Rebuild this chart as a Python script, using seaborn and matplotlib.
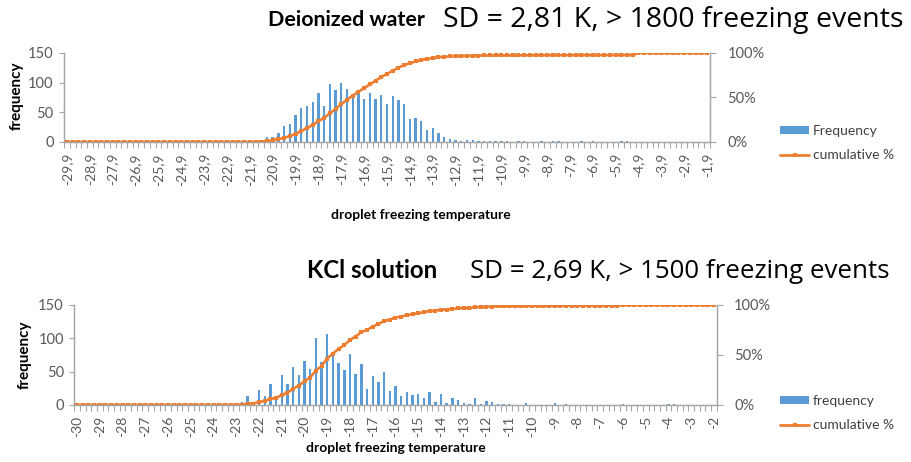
import numpy as np
import pandas as pd
import matplotlib
matplotlib.use("Agg")
import matplotlib.pyplot as plt
import seaborn as sns
from matplotlib.patches import Patch
from matplotlib.lines import Line2D

# ---------------- data ----------------
dw_tick_labels = ["-29,9", "-28,9", "-27,9", "-26,9", "-25,9", "-24,9", "-23,9", "-22,9",
                  "-21,9", "-20,9", "-19,9", "-18,9", "-17,9", "-16,9", "-15,9", "-14,9",
                  "-13,9", "-12,9", "-11,9", "-10,9", "-9,9", "-8,9", "-7,9", "-6,9",
                  "-5,9", "-4,9", "-3,9", "-2,9", "-1,9"]
dw_freq = [0] * 34 + [1, 8, 8, 16, 27, 30, 46, 58, 61, 68, 82, 61, 97, 88, 100, 90, 74, 87,
                      73, 83, 73, 80, 64, 78, 70, 64, 39, 41, 36, 21, 24, 16, 9, 5, 3, 2,
                      3, 4, 2, 1, 1, 1, 1, 1, 0, 1, 1, 0, 0, 1, 0, 1, 1, 0, 0, 0, 1, 0, 1,
                      0, 0, 0, 0, 1, 1] + [0] * 14
dw_cum = [0] * 33 + [0.2, 0.5, 1.2, 2.0, 3.2, 4.8, 6.6, 9.2, 12.3, 15.6, 19.2, 23.5, 27.0,
                     32.2, 37.2, 42.5, 47.5, 52.0, 56.5, 60.5, 64.8, 68.8, 73.0, 76.5, 80.0,
                     83.5, 86.5, 88.5, 90.5, 92.2, 93.3, 94.4, 95.3, 95.8, 96.2, 96.4, 96.6,
                     96.8, 97.0, 97.1, 97.2, 97.2, 97.25, 97.3, 97.3, 97.35, 97.4, 97.4, 97.4,
                     97.45, 97.45, 97.5, 97.55, 97.55, 97.55, 97.55, 97.6, 97.6, 97.65, 97.65,
                     97.65, 97.65, 97.7, 97.75, 97.75, 97.75, 97.75] + [100] * 13

kcl_tick_labels = ["-30", "-29", "-28", "-27", "-26", "-25", "-24", "-23", "-22", "-21",
                   "-20", "-19", "-18", "-17", "-16", "-15", "-14", "-13", "-12", "-11",
                   "-10", "-9", "-8", "-7", "-6", "-5", "-4", "-3", "-2"]
kcl_freq = [0] * 29 + [5, 13, 1, 23, 13, 32, 12, 45, 32, 57, 45, 66, 54, 101, 65, 107, 73, 63,
                       52, 76, 47, 62, 24, 43, 35, 49, 21, 28, 13, 19, 15, 16, 11, 19, 4, 16,
                       3, 11, 7, 3, 2, 10, 2, 6, 4, 2, 2, 1, 0, 0, 3, 0, 0, 0, 0, 3, 0,
                       1, 0, 0, 0, 0, 0, 0, 0, 0, 0, 2, 0, 0, 0, 0, 0, 0, 0, 2, 1] + [0] * 7
kcl_cum = [0] * 28 + [0.2, 0.5, 1.4, 1.5, 3.1, 4.0, 6.2, 7.0, 10.1, 12.3, 16.2, 19.3, 23.8,
                      27.5, 34.5, 39.0, 46.5, 51.5, 56.0, 60.0, 65.0, 68.5, 73.0, 75.0, 78.5,
                      81.0, 84.0, 85.5, 87.5, 88.5, 89.8, 90.8, 91.9, 92.7, 94.0, 94.3, 95.3,
                      95.5, 96.2, 96.7, 96.9, 97.0, 97.7, 97.8, 98.2, 98.5, 98.6, 98.7, 98.8,
                      98.8, 98.8, 99.0, 99.0, 99.0, 99.0, 99.0, 99.3, 99.3,
                      99.4, 99.4, 99.4, 99.4, 99.4, 99.4, 99.4, 99.4, 99.4, 99.4,
                      99.9] + [100] * 16

# ---------------- style ----------------
sns.set_theme(style="white")
plt.rcParams["font.family"] = ["Lato", "DejaVu Sans"]

BLUE = "#5B9BD5"
ORANGE = "#ED7D31"
GRAY_TXT = "#595959"
SPINE = "#A6A6A6"

W, H = 911, 462
fig = plt.figure(figsize=(W / 100, H / 100), dpi=100)


def rect(x0, x1, ytop, ybot):
    return [x0 / W, 1 - ybot / H, (x1 - x0) / W, (ybot - ytop) / H]


panels = [
    dict(freq=dw_freq, cum=dw_cum, labels=dw_tick_labels,
         rect=rect(64.1, 709.9, 53, 142),
         title="Deionized water", title_x=268, title_fs=15.4,
         sd="SD = 2,81 K, > 1800 freezing events", sd_x=443, sd_fs=20.5,
         title_y=20, xlab=(421, 215), ylab=(17, 96), leg_y=143,
         leg_names=["Frequency", "cumulative %"]),
    dict(freq=kcl_freq, cum=kcl_cum, labels=kcl_tick_labels,
         rect=rect(74.2, 716.8, 305, 405),
         title="KCl solution", title_x=307, title_fs=17.3,
         sd="SD = 2,69 K, > 1500 freezing events", sd_x=470, sd_fs=18.6,
         title_y=271, xlab=(396, 448), ylab=(25, 355), leg_y=413,
         leg_names=["frequency", "cumulative %"]),
]

for p in panels:
    n = len(p["freq"])
    df = pd.DataFrame({"pos": list(range(n)), "freq": p["freq"], "cum": p["cum"]})
    ax = fig.add_axes(p["rect"])
    sns.barplot(data=df, x="pos", y="freq", color=BLUE, width=0.42, saturation=1,
                linewidth=0, ax=ax)
    ax.set_xlim(-0.5, n - 0.5)
    ax.set_ylim(0, 150)
    ax.set_yticks([0, 50, 100, 150])
    ax.set_yticklabels(["0", "50", "100", "150"])
    major = list(range(0, n, 4))
    ax.set_xticks(major)
    ax.set_xticklabels(p["labels"], rotation=90)
    ax.set_xticks(np.arange(-0.5, n, 1.0), minor=True)
    ax.tick_params(axis="x", which="major", length=0, pad=8, labelsize=10, labelcolor=GRAY_TXT)
    ax.tick_params(axis="x", which="minor", length=4.5, width=0.8, color=SPINE, direction="out",
                   bottom=True)
    ax.tick_params(axis="y", which="major", length=3.5, width=0.8, color=SPINE, left=True,
                   direction="out", pad=4, labelsize=10.5, labelcolor=GRAY_TXT)
    ax.set_xlabel("")
    ax.set_ylabel("")
    ax.spines["top"].set_visible(False)
    for s in ["left", "right", "bottom"]:
        ax.spines[s].set_color(SPINE)
        ax.spines[s].set_linewidth(0.9)

    ax2 = ax.twinx()
    sns.lineplot(data=df, x="pos", y="cum", ax=ax2, color=ORANGE, linewidth=1.9,
                 marker="s", markersize=2.4, markeredgewidth=0, markerfacecolor=ORANGE)
    ax2.set_xlim(-0.5, n - 0.5)
    ax2.set_ylim(0, 100)
    ax2.set_yticks([0, 50, 100])
    ax2.set_yticklabels(["0%", "50%", "100%"])
    ax2.set_ylabel("")
    ax2.tick_params(axis="y", length=4.5, width=0.8, color=SPINE, right=True, direction="out",
                    pad=8, labelsize=10.5, labelcolor=GRAY_TXT)
    ax2.spines["top"].set_visible(False)
    for s in ["left", "right", "bottom"]:
        ax2.spines[s].set_color(SPINE)
        ax2.spines[s].set_linewidth(0.9)

    fig.text(p["title_x"] / W, 1 - p["title_y"] / H, p["title"], ha="left", va="center",
             fontsize=p["title_fs"], fontweight="bold", color="black")
    fig.text(p["sd_x"] / W, 1 - p["title_y"] / H, p["sd"], ha="left", va="center",
             fontsize=p["sd_fs"], color="black", family=["Open Sans", "DejaVu Sans"])
    fig.text(p["xlab"][0] / W, 1 - p["xlab"][1] / H, "droplet freezing temperature",
             ha="center", va="center", fontsize=10, fontweight="bold", color="black")
    fig.text(p["ylab"][0] / W, 1 - p["ylab"][1] / H, "frequency", ha="center", va="center",
             rotation=90, fontsize=11, fontweight="bold", color="black")

    handles = [Patch(facecolor=BLUE, edgecolor="none"),
               Line2D([0], [0], color=ORANGE, lw=2.0, marker="s", markersize=2.2,
                      markeredgewidth=0)]
    fig.legend(handles, p["leg_names"], loc="center left",
               bbox_to_anchor=(780 / W, 1 - p["leg_y"] / H), frameon=False,
               fontsize=10, labelcolor="#404040", handlelength=2.1, handleheight=0.5,
               handletextpad=0.25, labelspacing=0.9, borderpad=0, borderaxespad=0)

fig.savefig("out.png", dpi=100)
